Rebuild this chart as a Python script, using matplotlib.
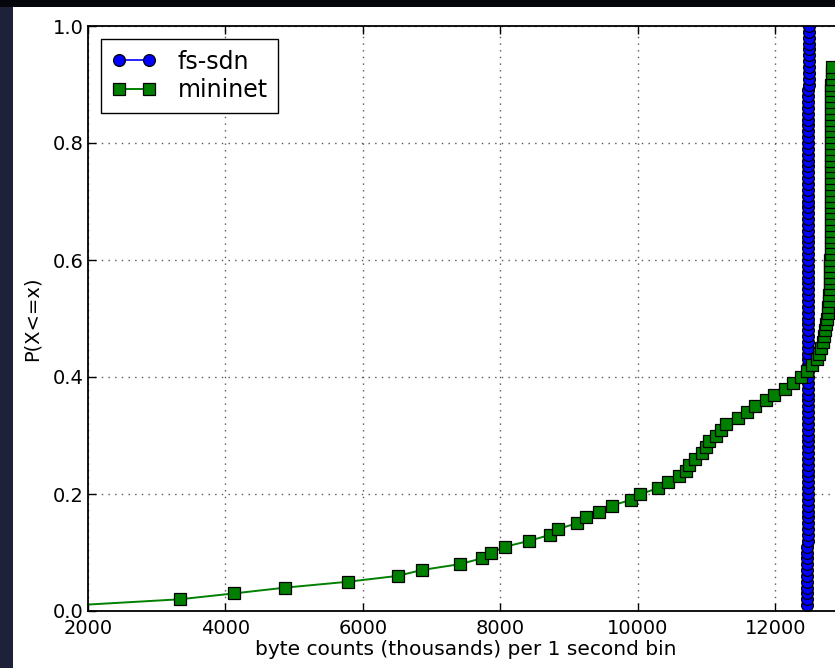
import matplotlib
matplotlib.use("Agg")
import matplotlib.pyplot as plt
from matplotlib.patches import Rectangle
import numpy as np

# sorted per-second byte counts (thousands), one value per 1% step of the CDF
fs_sdn_kbytes = [
    12465, 12465, 12466, 12466, 12466, 12467, 12467, 12467, 12468, 12468,
    12468, 12469, 12469, 12469, 12469, 12470, 12470, 12470, 12470, 12471,
    12471, 12471, 12471, 12471, 12472, 12472, 12472, 12472, 12472, 12473,
    12473, 12473, 12473, 12473, 12473, 12474, 12474, 12474, 12474, 12474,
    12474, 12475, 12475, 12475, 12475, 12475, 12475, 12475, 12476, 12476,
    12476, 12476, 12476, 12476, 12476, 12477, 12477, 12477, 12477, 12477,
    12477, 12478, 12478, 12478, 12478, 12478, 12478, 12479, 12479, 12479,
    12479, 12479, 12480, 12480, 12480, 12480, 12480, 12481, 12481, 12481,
    12481, 12482, 12482, 12482, 12482, 12483, 12483, 12483, 12483, 12484,
    12484, 12484, 12485, 12485, 12485, 12486, 12486, 12487, 12487, 12488,
]

mininet_kbytes = [
    1850, 3334, 4119, 4873, 5782, 6504, 6854, 7406, 7731, 7871,
    8074, 8422, 8718, 8834, 9114, 9247, 9432, 9619, 9899, 10039,
    10295, 10444, 10598, 10699, 10746, 10832, 10940, 10995, 11042, 11134,
    11213, 11290, 11461, 11594, 11711, 11858, 11982, 12145, 12253, 12378,
    12463, 12540, 12603, 12641, 12666, 12690, 12709, 12724, 12739, 12753,
    12763, 12772, 12780, 12786, 12791, 12795, 12798, 12800, 12802, 12803,
    12804, 12805, 12806, 12806, 12807, 12807, 12808, 12808, 12809, 12809,
    12809, 12810, 12810, 12810, 12811, 12811, 12811, 12812, 12812, 12812,
    12813, 12813, 12813, 12814, 12814, 12815, 12815, 12816, 12817, 12818,
    12819, 12821, 12823, 12978, 12982, 12986, 12990, 12993, 12996, 12999,
]

x_ticks = [2000, 4000, 6000, 8000, 10000, 12000]
y_ticks = [0.0, 0.2, 0.4, 0.6, 0.8, 1.0]


def ecdf(values):
    xs = np.sort(np.array(values, dtype=float))
    ps = np.arange(1, len(xs) + 1) / len(xs)
    return xs, ps


fig = plt.figure(figsize=(8.35, 6.68), dpi=100)
fig.patch.set_facecolor("#1d2238")
# white slide area, dark strip on top
fig.patches.append(Rectangle((13 / 835, 0), 1, 661 / 668, transform=fig.transFigure,
                             facecolor="white", edgecolor="none", zorder=-2))
fig.patches.append(Rectangle((0, 661 / 668), 1, 7 / 668, transform=fig.transFigure,
                             facecolor="#05060c", edgecolor="none", zorder=-2))

ax = fig.add_axes([88 / 835, 57 / 668, 756 / 835, 585 / 668])

x1, p1 = ecdf(fs_sdn_kbytes)
x2, p2 = ecdf(mininet_kbytes)

ax.plot(x1, p1, color="#0000ff", marker="o", markersize=8.5, markeredgecolor="k",
        markeredgewidth=0.9, linewidth=1.2, label="fs-sdn")
ax.plot(x2, p2, color="#008000", marker="s", markersize=8.5, markeredgecolor="k",
        markeredgewidth=0.9, linewidth=1.4, label="mininet")

ax.set_xlim(2000, 13000)
ax.set_ylim(0.0, 1.0)
ax.set_xticks(x_ticks)
ax.set_yticks(y_ticks)
ax.set_yticklabels(["%.1f" % v for v in y_ticks])
ax.tick_params(direction="in", top=True, right=True, length=6, width=1,
               labelsize=14)
ax.tick_params(axis="x", pad=6)
ax.tick_params(axis="y", pad=3)
for s in ax.spines.values():
    s.set_linewidth(1.3)

ax.grid(True, color="#555555", linestyle=(0, (1, 3.8)), linewidth=1.0)

ax.set_xlabel("byte counts (thousands) per 1 second bin", fontsize=14.5, labelpad=1)
ax.set_ylabel("P(X<=x)", fontsize=14, labelpad=8)

leg = ax.legend(loc="upper left", fontsize=17, numpoints=2, fancybox=False,
                framealpha=1, edgecolor="k", borderaxespad=0.55,
                handlelength=1.9, handletextpad=0.9, labelspacing=0.2,
                borderpad=0.45)
leg.get_frame().set_linewidth(1.0)

fig.savefig("out.png", dpi=100, facecolor=fig.get_facecolor())
